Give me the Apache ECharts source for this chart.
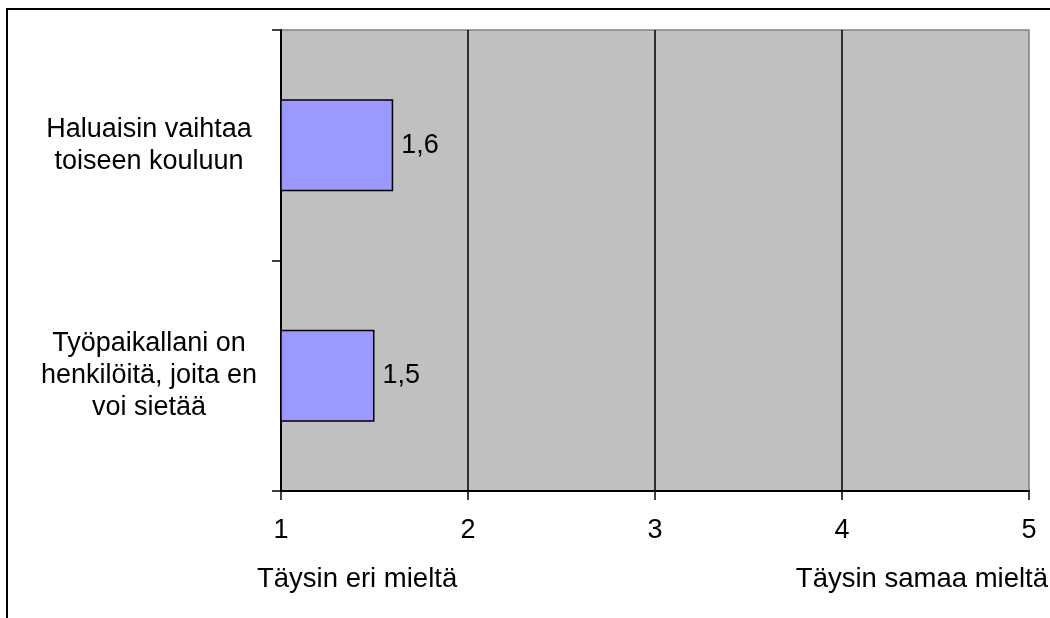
<!DOCTYPE html>
<html>
<head>
<meta charset="utf-8">
<script src="https://cdn.jsdelivr.net/npm/echarts@6/dist/echarts.min.js"></script>
<style>
  html, body { margin: 0; padding: 0; background: #ffffff; }
  #chart { width: 1050px; height: 618px; }
</style>
</head>
<body>
<div id="chart"></div>
<script>
// Survey statements (bottom to top as drawn on the category axis)
const categories = [
  'Työpaikallani on\nhenkilöitä, joita en\nvoi sietää',
  'Haluaisin vaihtaa\ntoiseen kouluun'
];
// Mean answers on a 1–5 agreement scale
const values = [1.5, 1.6];
// Scale end descriptions
const scaleLow = 'Täysin eri mieltä';
const scaleHigh = 'Täysin samaa mieltä';

const FONT = '"Liberation Sans", Arial, sans-serif';
const chart = echarts.init(document.getElementById('chart'), null, { renderer: 'canvas' });

chart.setOption({
  animation: false,
  backgroundColor: '#ffffff',
  grid: {
    left: 281, top: 30, right: 21, bottom: 127,
    show: true,
    backgroundColor: '#C0C0C0',
    borderColor: '#808080',
    borderWidth: 1.5
  },
  xAxis: {
    type: 'value',
    min: 1, max: 5, interval: 1,
    axisLine: { show: true, onZero: false, lineStyle: { color: '#000', width: 2 } },
    axisTick: { show: true, length: 9, lineStyle: { color: '#000', width: 1.5 } },
    axisLabel: {
      margin: 26, color: '#000', fontFamily: FONT, fontSize: 27,
      formatter: v => String(v)
    },
    splitLine: {
      show: true, showMinLine: false, showMaxLine: false,
      lineStyle: { color: '#000', width: 1.5 }
    }
  },
  yAxis: {
    type: 'category',
    data: categories,
    axisLine: { show: true, lineStyle: { color: '#000', width: 2 } },
    axisTick: { show: true, length: 9, alignWithLabel: false, lineStyle: { color: '#000', width: 1.5 } },
    axisLabel: {
      margin: 132, align: 'center', color: '#000', fontFamily: FONT,
      fontSize: 27, lineHeight: 32
    },
    splitLine: { show: false }
  },
  series: [{
    type: 'bar',
    data: values,
    barWidth: '40%',
    itemStyle: { color: '#9999FF', borderColor: '#000', borderWidth: 1.5 },
    label: {
      show: true, position: 'right', distance: 8,
      color: '#000', fontFamily: FONT, fontSize: 27,
      formatter: p => String(p.value).replace('.', ',')
    }
  }],
  graphic: [
    {
      type: 'rect', silent: true, z: 100,
      shape: { x: 7, y: 9, width: 1200, height: 800 },
      style: { fill: 'none', stroke: '#000', lineWidth: 2 }
    },
    {
      type: 'text', left: 257, top: 565,
      style: { text: scaleLow, fill: '#000', font: '27.5px ' + FONT }
    },
    {
      type: 'text', right: 2, top: 565,
      style: { text: scaleHigh, fill: '#000', font: '27.5px ' + FONT }
    }
  ]
});
</script>
</body>
</html>
